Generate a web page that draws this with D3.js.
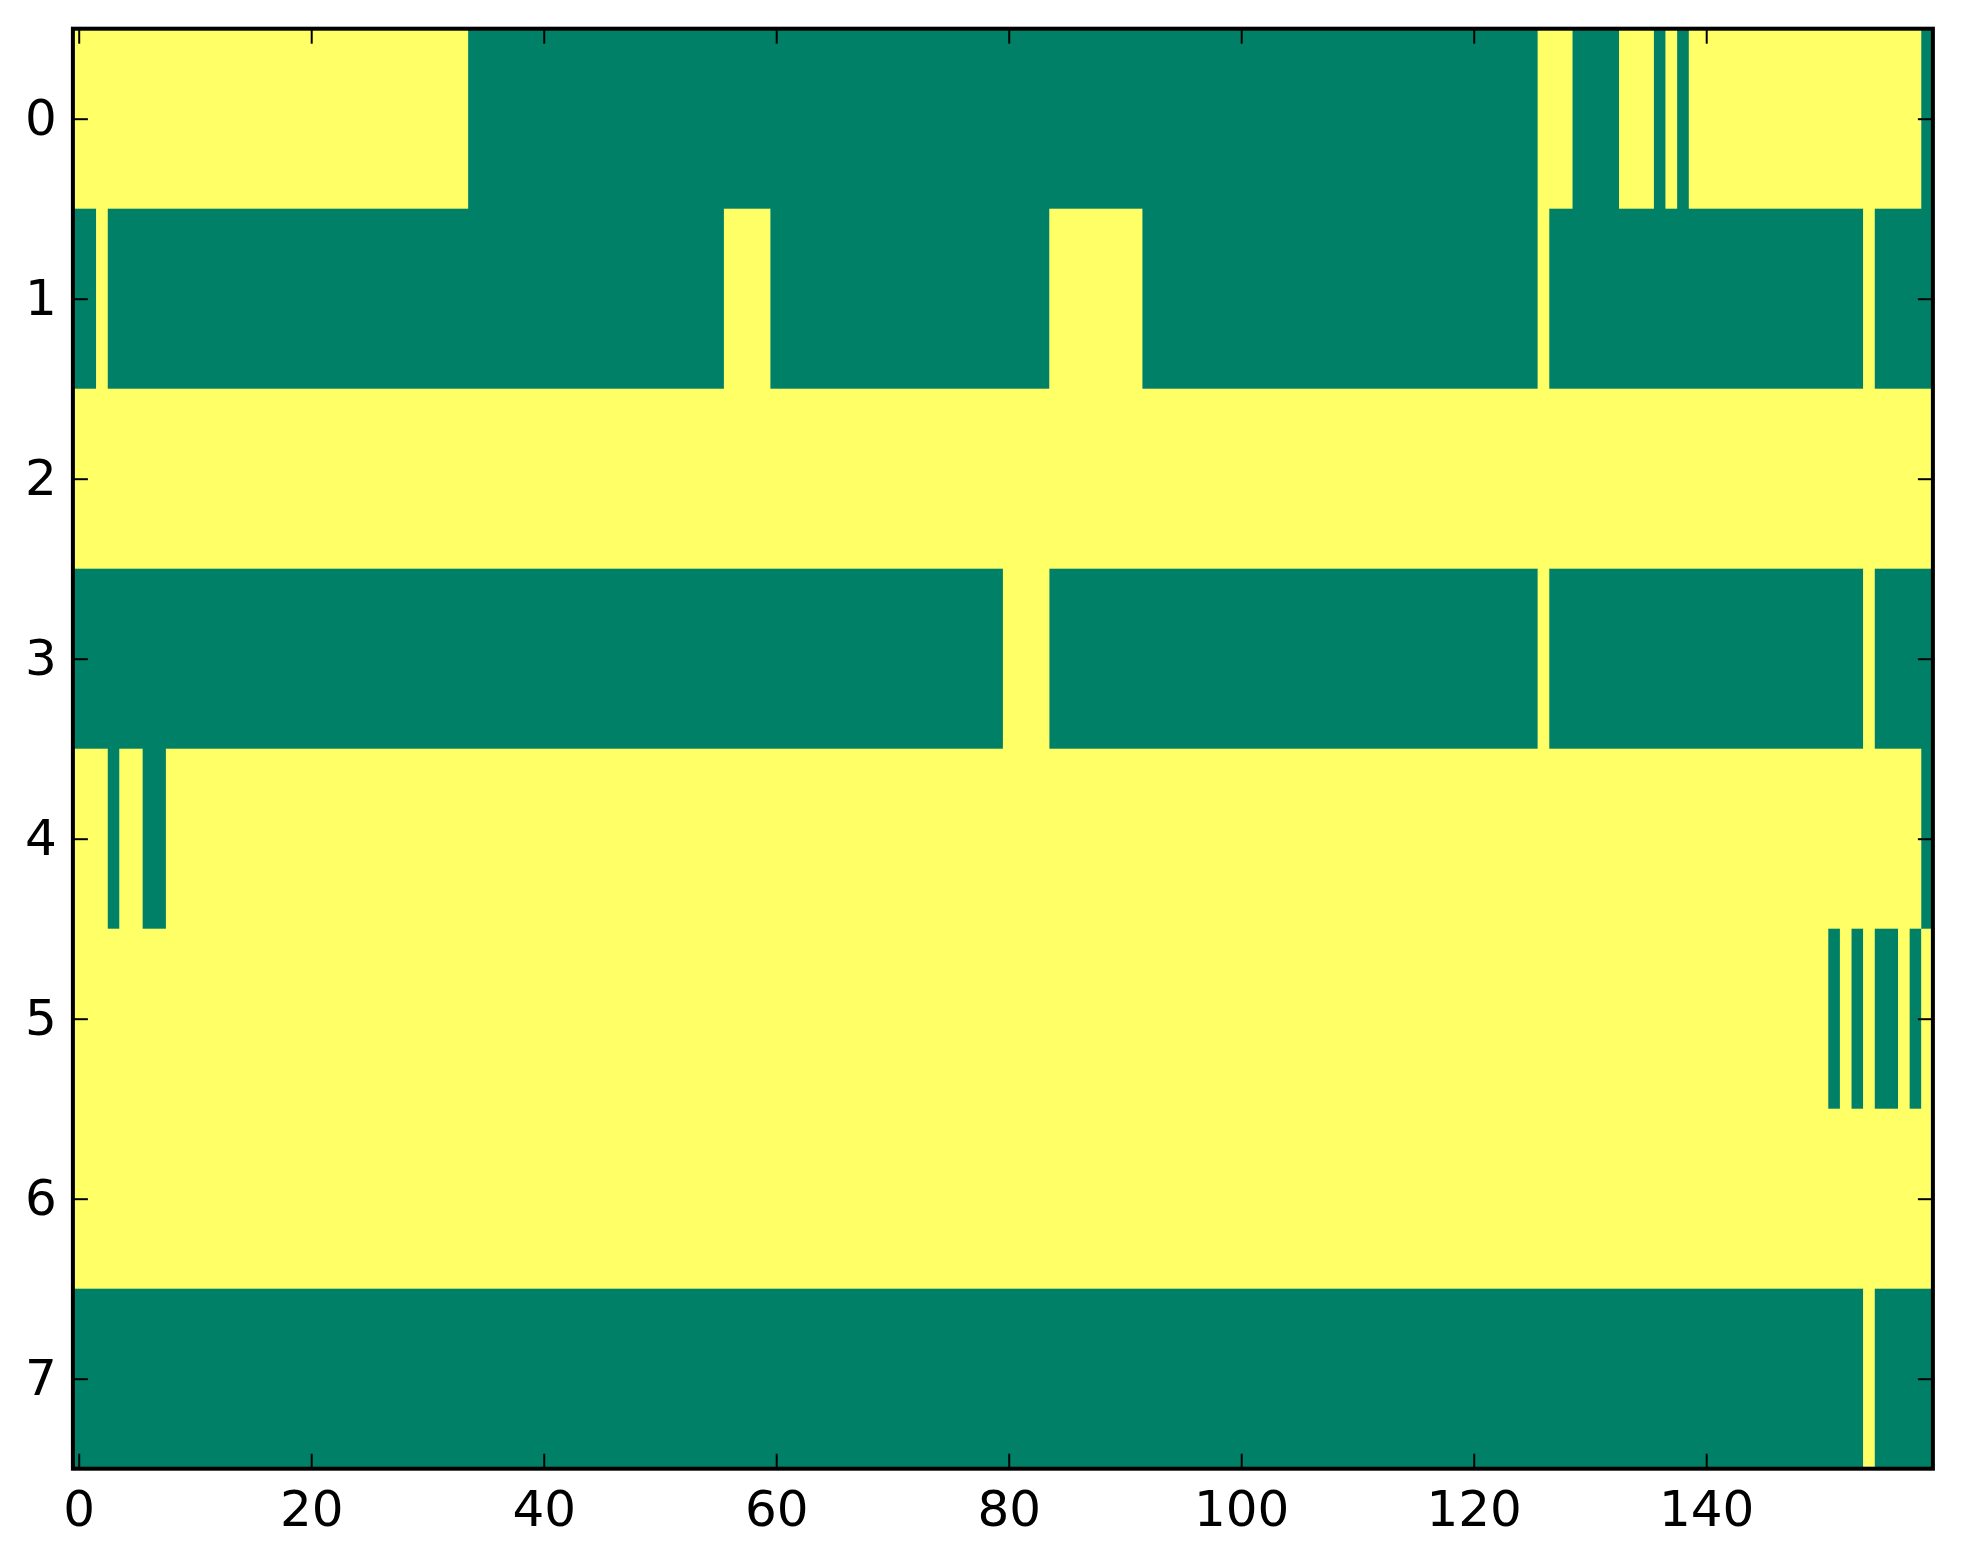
<!DOCTYPE html>
<html>
<head>
<meta charset="utf-8">
<script src="https://cdn.jsdelivr.net/npm/d3@7"></script>
<style>
	body { margin: 0; background: #fff; }
	.tick text { font-family: "DejaVu Sans", sans-serif; font-size: 50px; fill: #000; }
</style>
</head>
<body>
<div id="container"></div>
<script>
// each row is a list of [value, run length], 0 = low (green), 1 = high (yellow)
var row0 = [[1, 34], [0, 92], [1, 3], [0, 4], [1, 3], [0, 1], [1, 1], [0, 1], [1, 20], [0, 1]];
var row1 = [[0, 2], [1, 1], [0, 53], [1, 4], [0, 24], [1, 8], [0, 34], [1, 1], [0, 27], [1, 1], [0, 5]];
var row2 = [[1, 160]];
var row3 = [[0, 80], [1, 4], [0, 42], [1, 1], [0, 27], [1, 1], [0, 5]];
var row4 = [[1, 3], [0, 1], [1, 2], [0, 2], [1, 151], [0, 1]];
var row5 = [[1, 151], [0, 1], [1, 1], [0, 1], [1, 1], [0, 2], [1, 1], [0, 1], [1, 1]];
var row6 = [[1, 160]];
var row7 = [[0, 154], [1, 1], [0, 5]];
var rows = [row0, row1, row2, row3, row4, row5, row6, row7];

var nCols = 160;
var xTicks = [0, 20, 40, 60, 80, 100, 120, 140];
var yTicks = [0, 1, 2, 3, 4, 5, 6, 7];

draw();

function draw() {
	var W = 1963, H = 1564,
		ml = 72.9, mt = 28.7, //plot area offset
		pw = 1860, ph = 1440; //plot area size

	var svg = d3.select("div#container").append("svg")
		.attr("width", W)
		.attr("height", H);

	var x = d3.scaleLinear().domain([-0.5, nCols - 0.5]).range([ml, ml + pw]);
	var y = d3.scaleLinear().domain([-0.5, rows.length - 0.5]).range([mt, mt + ph]);
	var color = d3.scaleLinear().domain([0, 1]).range(["rgb(0,128,102)", "rgb(255,255,102)"]); //summer colormap

	// turn the runs into spans with a start column
	var spans = [];
	rows.forEach(function (r, ri) {
		var c = 0;
		r.forEach(function (run) {
			spans.push({row: ri, start: c, len: run[1], v: run[0]});
			c += run[1];
		});
	});

	svg.append("g").selectAll("rect")
		.data(spans)
	  .enter().append("rect")
		.attr("x", function (d) { return x(d.start - 0.5); })
		.attr("y", function (d) { return y(d.row - 0.5); })
		.attr("width", function (d) { return x(d.start + d.len - 0.5) - x(d.start - 0.5) + 0.3; })
		.attr("height", function (d) { return y(d.row + 0.5) - y(d.row - 0.5) + 0.3; })
		.attr("fill", function (d) { return color(d.v); });

	function styleAxis(g) {
		g.select(".domain").remove();
		g.selectAll(".tick line").attr("stroke", "#000").attr("stroke-width", 2);
	}

	svg.append("g")
		.attr("transform", "translate(0," + (mt + ph) + ")")
		.call(d3.axisBottom(x).tickValues(xTicks).tickSizeInner(-15).tickSizeOuter(0).tickPadding(22))
		.call(styleAxis);
	svg.append("g")
		.attr("transform", "translate(0," + mt + ")")
		.call(d3.axisTop(x).tickValues(xTicks).tickSizeInner(-15).tickSizeOuter(0).tickFormat(""))
		.call(styleAxis);
	svg.append("g")
		.attr("transform", "translate(" + ml + ",0)")
		.call(d3.axisLeft(y).tickValues(yTicks).tickSizeInner(-15).tickSizeOuter(0).tickPadding(16))
		.call(styleAxis);
	svg.append("g")
		.attr("transform", "translate(" + (ml + pw) + ",0)")
		.call(d3.axisRight(y).tickValues(yTicks).tickSizeInner(-15).tickSizeOuter(0).tickFormat(""))
		.call(styleAxis);

	svg.selectAll(".tick text").attr("font-family", null).attr("font-size", null);

	// frame
	svg.append("rect")
		.attr("x", ml)
		.attr("y", mt)
		.attr("width", pw)
		.attr("height", ph)
		.attr("fill", "none")
		.attr("stroke", "#000")
		.attr("stroke-width", 4);
}
</script>
</body>
</html>
